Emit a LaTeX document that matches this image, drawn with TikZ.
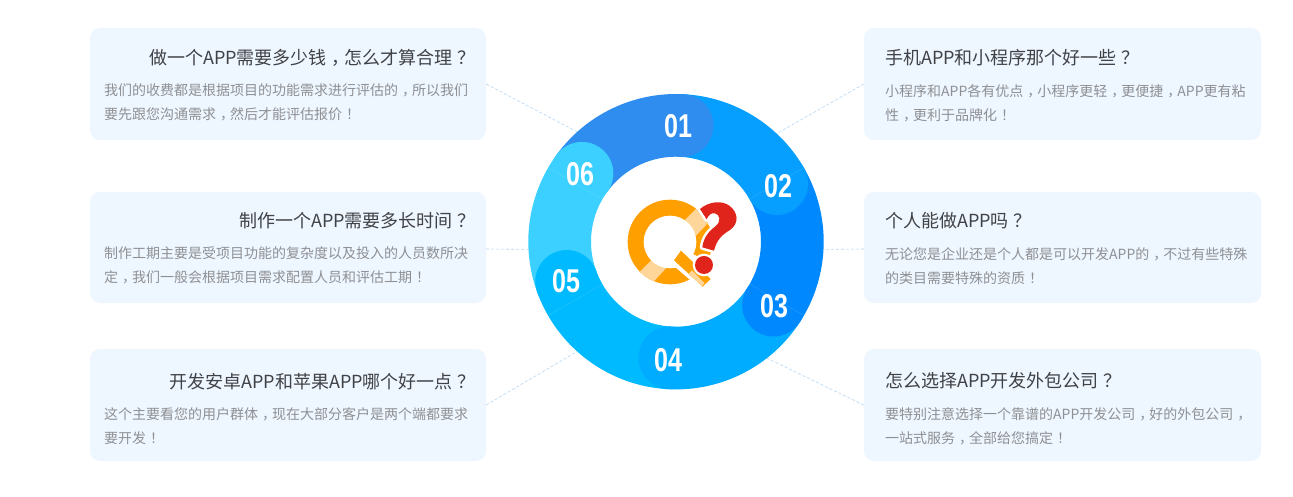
\documentclass[tikz,border=0pt]{standalone}
\usepackage{fontspec}
\usetikzlibrary{calc}
\setmainfont{Noto Sans CJK SC}
\newfontfamily\numfont[FakeStretch=0.76]{Liberation Sans}
\newcommand\sh[1]{\kern.28em #1\kern-.28em\relax}
\definecolor{boxbg}{HTML}{EEF6FF}
\definecolor{titlec}{HTML}{404246}
\definecolor{bodyc}{HTML}{8E9094}
\definecolor{linkc}{HTML}{B4D6F5}
\definecolor{segA}{HTML}{2E8DEF}
\definecolor{segB}{HTML}{069FFF}
\definecolor{segC}{HTML}{0088FF}
\definecolor{segD}{HTML}{00ACFF}
\definecolor{segE}{HTML}{00BAFF}
\definecolor{segF}{HTML}{3BD0FF}
\definecolor{qorange}{HTML}{FFA000}
\definecolor{qlight}{HTML}{FFD699}
\definecolor{qred}{HTML}{E0241C}
\tikzset{
  card/.style={fill=boxbg,rounded corners=10pt,minimum width=397pt,minimum height=112pt,inner sep=0pt},
  ttl/.style={text=titlec,inner sep=0pt,font=\fontsize{18}{22}\selectfont},
  bod/.style={text=bodyc,inner sep=0pt,align=left,font=\fontsize{14}{24}\selectfont},
  link/.style={draw=linkc,line width=.6pt,densely dashed},
  spoke/.style={draw=white,draw opacity=.12,line width=.6pt},
  num/.style={text=white,inner sep=0pt,font=\numfont\bfseries\fontsize{33}{33}\selectfont}
}
\begin{document}
\begin{tikzpicture}[x=1pt,y=1pt]
\useasboundingbox (0,0) rectangle (1293,496);
\fill[white] (0,0) rectangle (1293,496);
\coordinate (c) at (676,254.3);
\node[circle,minimum size=295.4pt,inner sep=0pt] (ring) at (c) {};
% cards
\node[card,minimum width=396pt] (b1) at (288,412) {};
\node[card,minimum width=396pt,minimum height=111pt] (b2) at (288,248.5) {};
\node[card,minimum width=396pt] (b3) at (288,91) {};
\node[card] (b4) at (1062.5,412) {};
\node[card,minimum height=111pt] (b5) at (1062.5,248.5) {};
\node[card] (b6) at (1062.5,91) {};
% connectors
\draw[link] (b1.east) -- (ring.132.8);
\draw[link] ($(b2.east)+(0,-1.5)$) -- (ring.183.2);
\draw[link] (b3.east) -- (ring.228);
\draw[link] (b4.west) -- (ring.47);
\draw[link] ($(b5.west)+(0,-1.5)$) -- (ring.-3);
\draw[link] (b6.west) -- (ring.-52.6);
% ring sectors
\foreach \a/\b/\col in {144/87/segA,87/30/segB,30/-33/segC,-33/-93/segD,-93/-160/segE,200/144/segF}{
  \fill[\col] ($(c)+(\a:147.7)$) arc[start angle=\a,end angle=\b,radius=147.7]
     -- ($(c)+(\b:85)$) arc[start angle=\b,end angle=\a,radius=85] -- cycle;
}
% heads
\foreach \a/\col in {87/segA,30/segB,-33/segC,-93/segD,200/segE,144/segF}{
  \fill[\col] ($(c)+(\a:116.3)$) circle[radius=31.4];
}
% faint spokes across the ring
\foreach \a in {30,-30,150,210}{
  \draw[spoke] ($(c)+(\a:85)$) -- ($(c)+(\a:147)$);
}
\node[num] (n1) at (678,370) {01};
\node[num] (n2) at (778,310) {02};
\node[num] (n3) at (774,190) {03};
\node[num] (n4) at (668,136) {04};
\node[num] (n5) at (566,215) {05};
\node[num] (n6) at (580,322) {06};
% logo
\begin{scope}[shift={(610,311)},x=.3333pt,y=-.3333pt]
  \begin{scope}
    \clip (180,171) circle[radius=127];
    \fill[qorange] (180,171) circle[radius=127];
    \fill[qlight] (88,262) -- (128,222) -- (168,250) -- (128,293) -- cycle;
    \fill[qlight] (225,105) -- (268,62) -- (300,108) -- (258,152) -- cycle;
    \fill[white] (180,171) circle[radius=79];
  \end{scope}
  \fill[white] (185,237) -- (213,190) -- (265,215) -- (320,280) -- (275,315) -- cycle;
  \fill[qorange] (213,197) -- (302,282) -- (278,305) -- (192,226) -- cycle;
  \fill[qlight] (236,266) -- (276,303) -- (284,295) -- (246,256) -- cycle;
  \path[fill=qred,preaction={draw=white,line width=5pt,line join=round}]
    (270,72) .. controls (295,50) and (335,45) .. (358,62)
    .. controls (385,82) and (388,115) .. (360,135)
    .. controls (335,150) and (320,165) .. (312,197)
    -- (277,187)
    .. controls (280,160) and (295,140) .. (315,125)
    .. controls (335,110) and (330,88) .. (315,85)
    .. controls (305,82) and (295,90) .. (290,103) -- cycle;
  \fill[white] (282,240) circle[radius=34];
  \fill[qred] (282,240) circle[radius=27];
\end{scope}
% titles
\node[ttl,anchor=east] (t1) at (471,438) {做一个APP需要多少钱\sh{，}怎么才算合理\sh{？}};
\node[ttl,anchor=east] (t2) at (471,275) {制作一个APP需要多长时间\sh{？}};
\node[ttl,anchor=east] (t3) at (471,114) {开发安卓APP和苹果APP哪个好一点\sh{？}};
\node[ttl,anchor=west] (t4) at (885,438) {手机APP和小程序那个好一些\sh{？}};
\node[ttl,anchor=west] (t5) at (885,275) {个人能做APP吗\sh{？}};
\node[ttl,anchor=west] (t6) at (885,115) {怎么选择APP开发外包公司\sh{？}};
% bodies
\node[bod,anchor=west] (d1) at (104,394) {我们的收费都是根据项目的功能需求进行评估的\sh{，}所以我们\\要先跟您沟通需求\sh{，}然后才能评估报价\sh{！}};
\node[bod,anchor=west] (d2) at (104,231) {制作工期主要是受项目功能的复杂度以及投入的人员数所决\\定\sh{，}我们一般会根据项目需求配置人员和评估工期\sh{！}};
\node[bod,anchor=west] (d3) at (104,70) {这个主要看您的用户群体\sh{，}现在大部分客户是两个端都要求\\要开发\sh{！}};
\node[bod,anchor=west] (d4) at (885,393) {小程序和APP各有优点\sh{，}小程序更轻\sh{，}更便捷\sh{，}APP更有粘\\性\sh{，}更利于品牌化\sh{！}};
\node[bod,anchor=west] (d5) at (885,230) {无论您是企业还是个人都是可以开发APP的\sh{，}不过有些特殊\\的类目需要特殊的资质\sh{！}};
\node[bod,anchor=west] (d6) at (885,70) {要特别注意选择一个靠谱的APP开发公司\sh{，}好的外包公司\sh{，}\\一站式服务\sh{，}全部给您搞定\sh{！}};
\end{tikzpicture}
\end{document}
